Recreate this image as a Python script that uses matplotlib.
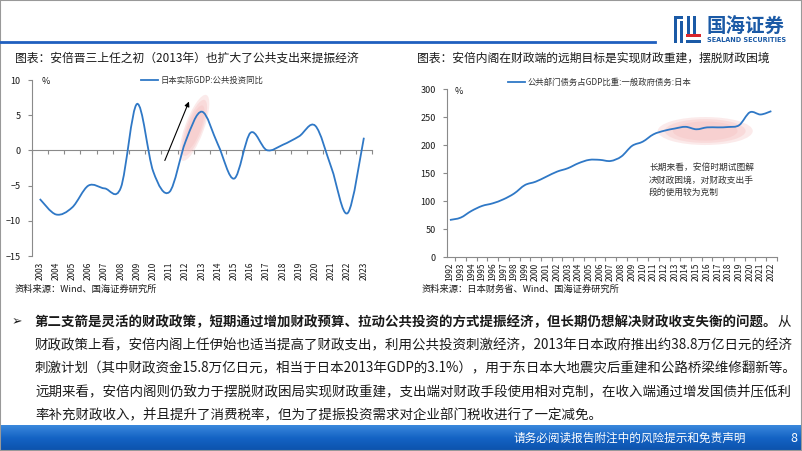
import numpy as np
import matplotlib
matplotlib.use("Agg")
import matplotlib.pyplot as plt
import matplotlib.transforms as mtransforms
from matplotlib.path import Path
from matplotlib.patches import PathPatch, Ellipse, Rectangle
from matplotlib.lines import Line2D

plt.rcParams["font.family"] = ["Noto Sans CJK SC", "DejaVu Sans"]

# left chart: public investment (real GDP component), yoy %
gi_years = list(range(2003, 2024))
gi_values = [-6.9, -9.1, -8.1, -5.0, -5.4, -5.3, 6.6, -3.0, -5.9, 1.3, 5.5,
             0.8, -4.0, 2.5, 0.05, 0.8, 2.0, 3.5, -2.5, -8.9, 1.8]

# right chart: general government debt / GDP, Japan, %
debt_years = list(range(1992, 2023))
debt_values = [66.7, 70.8, 82.7, 91.7, 96.4, 103.6, 114, 129, 135, 144, 153,
               159, 168, 174, 174, 172, 180, 199, 206.5, 219.6, 226, 230, 233,
               228.6, 232, 232, 232.7, 236, 259, 255, 261]

title_left = "图表：安倍晋三上任之初（2013年）也扩大了公共支出来提振经济"
title_right = "图表：安倍内阁在财政端的远期目标是实现财政重建，摆脱财政困境"
legend_left = "日本实际GDP:公共投资同比"
legend_right = "公共部门债务占GDP比重:一般政府债务:日本"
source_left = "资料来源：Wind、国海证券研究所"
source_right = "资料来源：日本财务省、Wind、国海证券研究所"
note_right = "长期来看，安倍时期试图解\n决财政困境，对财政支出手\n段的使用较为克制"

body_bold = "第二支箭是灵活的财政政策，短期通过增加财政预算、拉动公共投资的方式提振经济，但长期仍想解决财政收支失衡的问题。"
body_lines = [
    "财政政策上看，安倍内阁上任伊始也适当提高了财政支出，利用公共投资刺激经济，2013年日本政府推出约38.8万亿日元的经济",
    "刺激计划（其中财政资金15.8万亿日元，相当于日本2013年GDP的3.1%），用于东日本大地震灾后重建和公路桥梁维修翻新等。",
    "远期来看，安倍内阁则仍致力于摆脱财政困局实现财政重建，支出端对财政手段使用相对克制，在收入端通过增发国债并压低利",
    "率补充财政收入，并且提升了消费税率，但为了提振投资需求对企业部门税收进行了一定减免。",
]

W, H = 802, 451
BLUE = "#2f78c6"
GRAY = "#8a8a8a"
TXT = "#1a1a1a"


def fx(px):
    return px / W


def fy(py):
    return 1 - py / H


def smooth_path(xs, ys):
    # smoothed line (like office "smooth line") drawn as bezier through the points
    p = np.column_stack([xs, ys]).astype(float)
    ext = np.vstack([p[0], p, p[-1]])
    verts = [p[0]]
    codes = [Path.MOVETO]
    for i in range(len(p) - 1):
        p0, p1, p2, p3 = ext[i], ext[i + 1], ext[i + 2], ext[i + 3]
        verts += [p1 + (p2 - p0) / 6, p2 - (p3 - p1) / 6, p2]
        codes += [Path.CURVE4] * 3
    return Path(verts, codes)


def soft_ellipse(ax, fig, x, y, w, h, angle):
    for k, a in [(1.0, 0.35), (0.85, 0.4), (0.68, 0.45)]:
        tr = fig.dpi_scale_trans + mtransforms.ScaledTranslation(x, y, ax.transData)
        ax.add_patch(Ellipse((0, 0), w * k, h * k, angle=angle, transform=tr,
                             facecolor="#f6c4c4", edgecolor="none", alpha=a, zorder=1))


fig = plt.figure(figsize=(W / 100, H / 100), dpi=100)

# ---- header
fig.add_artist(Line2D([0, fx(655)], [fy(42), fy(42)], color="#1f5fbf", lw=2.0))
for (x, y, w, h, c) in [(674, 16, 9, 3, "#1b5aa6"), (674, 16, 3, 27, "#1b5aa6"),
                        (680, 21, 3, 22, "#1b5aa6"), (687, 16, 3, 18, "#1b5aa6"),
                        (693, 16, 3, 18, "#1b5aa6"), (686, 34, 15, 3, "#d9262c"),
                        (686, 40, 15, 3, "#1b5aa6")]:
    fig.add_artist(Rectangle((fx(x), fy(y + h)), w / W, h / H,
                             transform=fig.transFigure, color=c, lw=0))
fig.text(fx(706), fy(27), "国海证券", fontsize=14, weight="bold", color="#1b5aa6", va="center")
fig.text(fx(707), fy(40.5), "SEALAND SECURITIES", fontsize=4.7, weight="bold",
         color="#1b5aa6", va="center", family="DejaVu Sans")

fig.text(fx(15), fy(58), title_left, fontsize=8.5, color=TXT, va="center")
fig.text(fx(417), fy(58), title_right, fontsize=8.5, color=TXT, va="center")

# ---- left chart
ax1 = fig.add_axes([fx(31.7), fy(256), (372 - 31.7) / W, 176 / H])
ax1.set_xlim(2002.5, 2023.5)
ax1.set_ylim(-15, 10)
soft_ellipse(ax1, fig, 2012.54, 3.2, 0.19, 0.70, -20)
ax1.add_patch(PathPatch(smooth_path(gi_years, gi_values), fill=False,
                        edgecolor=BLUE, lw=1.3, zorder=3))
ax1.annotate("", xy=(2012.27, 7.3), xytext=(2010.65, -1.8),
             arrowprops=dict(arrowstyle="-|>", color="black", lw=0.8, mutation_scale=7))
for s in ["top", "right", "bottom"]:
    ax1.spines[s].set_visible(False)
ax1.spines["left"].set_color(GRAY)
ax1.spines["left"].set_linewidth(0.8)
ax1.set_yticks(range(-15, 11, 5))
ax1.tick_params(axis="y", direction="out", length=3, width=0.8, color=GRAY,
                labelsize=6.5, pad=5, labelcolor=TXT)
ax1.set_xticks(gi_years)
ax1.set_xticklabels([str(y) for y in gi_years], rotation=90)
ax1.tick_params(axis="x", length=0, labelsize=6, pad=4, labelcolor=TXT)
sec = ax1.secondary_xaxis(0.6)
sec.set_xticks(np.arange(2002.5, 2024, 1))
sec.tick_params(axis="x", direction="in", length=3, width=0.8, color=GRAY,
                labeltop=False, labelbottom=False)
for s in sec.spines.values():
    s.set_color(GRAY)
    s.set_linewidth(0.8)
ax1.text(0.03, 0.99, "%", transform=ax1.transAxes, fontsize=6.5, va="center", color=TXT)
fig.legend(handles=[Line2D([], [], color=BLUE, lw=1.3)], labels=[legend_left],
           loc="center", bbox_to_anchor=(fx(202), fy(80)), frameon=False,
           fontsize=6, handlelength=2.0, handletextpad=0.3, labelcolor="#333333")
fig.text(fx(15), fy(289), source_left, fontsize=6.7, color=TXT, va="center")

# ---- right chart
ax2 = fig.add_axes([fx(446.7), fy(257.3), 330 / W, 168 / H])
ax2.set_xlim(1991.7, 2022.5)
ax2.set_ylim(0, 300)
soft_ellipse(ax2, fig, 2015.83, 225.5, 0.95, 0.28, 0)
ax2.add_patch(PathPatch(smooth_path(debt_years, debt_values), fill=False,
                        edgecolor=BLUE, lw=1.3, zorder=3))
for s in ["top", "right"]:
    ax2.spines[s].set_visible(False)
for s in ["left", "bottom"]:
    ax2.spines[s].set_color(GRAY)
    ax2.spines[s].set_linewidth(0.8)
ax2.set_yticks(range(0, 301, 50))
ax2.tick_params(axis="y", direction="out", length=3, width=0.8, color=GRAY,
                labelsize=6.5, pad=5, labelcolor=TXT)
ax2.set_xticks(debt_years)
ax2.set_xticklabels([str(y) for y in debt_years], rotation=90)
ax2.set_xticks(np.arange(1992.5, 2023, 1), minor=True)
ax2.tick_params(axis="x", which="major", length=0, labelsize=6, pad=4, labelcolor=TXT)
ax2.tick_params(axis="x", which="minor", direction="out", length=3, width=0.8, color=GRAY)
ax2.text(0.025, 0.985, "%", transform=ax2.transAxes, fontsize=6.5, va="center", color=TXT)
ax2.text(2010.6, 168, note_right, fontsize=6.3, color="#333333", va="top",
         linespacing=1.45)
fig.legend(handles=[Line2D([], [], color=BLUE, lw=1.3)], labels=[legend_right],
           loc="center", bbox_to_anchor=(fx(600), fy(82)), frameon=False,
           fontsize=6, handlelength=2.0, handletextpad=0.3, labelcolor="#333333")
fig.text(fx(422), fy(289), source_right, fontsize=6.7, color=TXT, va="center")

# ---- body text
line_y = [322, 345, 368.5, 392, 415]
fig.text(fx(12), fy(line_y[0]), "➢", fontsize=9, color=TXT, va="center", family="DejaVu Sans")
t = fig.text(fx(35), fy(line_y[0]), body_bold, fontsize=9.7, weight="bold", color=TXT, va="center")
bb = t.get_window_extent(renderer=fig.canvas.get_renderer())
fig.text(bb.x1 / W, fy(line_y[0]), "从", fontsize=9.7, color=TXT, va="center")
for y, s in zip(line_y[1:], body_lines):
    fig.text(fx(35), fy(y), s, fontsize=9.7, color=TXT, va="center")

# ---- footer band
axf = fig.add_axes([0, 0, 1, 26 / H])
grad = np.linspace(0, 1, 50)[:, None] * np.ones((1, 200))
axf.imshow(grad, aspect="auto", cmap=matplotlib.colors.LinearSegmentedColormap.from_list(
    "band", ["#3a88dc", "#1463c4", "#0c52ab"]), extent=[0, 1, 0, 1])
axf.set_axis_off()
fig.text(fx(514), fy(438), "请务必阅读报告附注中的风险提示和免责声明", fontsize=8.4,
         color="white", va="center")
fig.text(fx(790), fy(438), "8", fontsize=9, color="white", va="center")

fig.add_artist(Rectangle((0, 0), 1, 1, transform=fig.transFigure, fill=False,
                         edgecolor="#999999", lw=1.5))

fig.savefig("out.png", dpi=100)
